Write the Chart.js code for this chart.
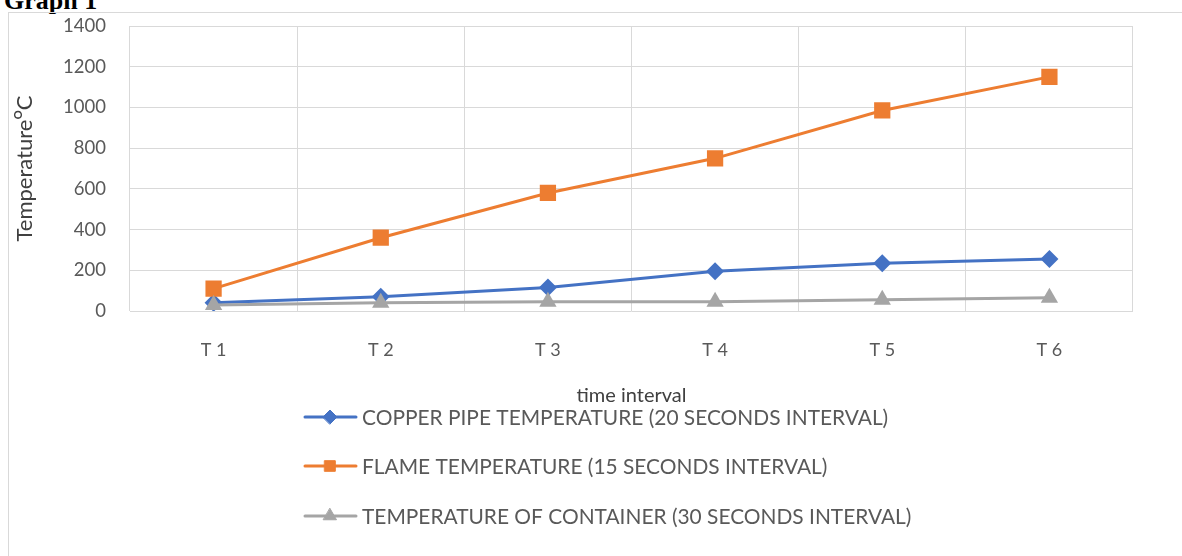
<!DOCTYPE html>
<html>
<head>
<meta charset="utf-8">
<script src="https://cdn.jsdelivr.net/npm/chart.js@4"></script>
<style>
  html, body { margin: 0; padding: 0; background: #fff; }
  #wrap { position: relative; width: 1182px; height: 556px; overflow: hidden; }
  #frame { position: absolute; left: 8px; top: 12px; width: 1200px; height: 600px; border: 1px solid #d9d9d9; box-sizing: border-box; }
  #caption { position: absolute; left: 4px; top: -14px; font: bold 26px "Liberation Serif", serif; color: #000; }
  canvas { position: absolute; left: 0; top: 0; }
</style>
</head>
<body>
<div id="wrap">
  <div id="caption">Graph 1</div>
  <div id="frame"></div>
  <canvas id="lineChart" width="1182" height="556"></canvas>
</div>
<script>
const categorias = ["T 1", "T 2", "T 3", "T 4", "T 5", "T 6"];
const copper = [40, 70, 115, 195, 235, 255];
const flame = [110, 360, 580, 750, 985, 1150];
const container = [30, 40, 45, 45, 55, 65];
const nomes = [
    "COPPER PIPE TEMPERATURE (20 SECONDS INTERVAL)",
    "FLAME TEMPERATURE (15 SECONDS INTERVAL)",
    "TEMPERATURE OF CONTAINER (30 SECONDS INTERVAL)"
];
const cores = ['#4472C4', '#ED7D31', '#A5A5A5'];
const marcadores = ['rectRot', 'rect', 'triangle'];
const fonte = 'Lato, "Open Sans", sans-serif';

// legenda em coluna, desenhada a mao como no Excel
const legendaColuna = {
    id: 'legendaColuna',
    afterDraw(chart) {
        const c = chart.ctx;
        const linhas = [417, 466, 516];
        chart.data.datasets.forEach((ds, i) => {
            const y = linhas[i];
            c.save();
            c.strokeStyle = ds.borderColor;
            c.lineWidth = 3;
            c.lineCap = 'round';
            c.beginPath();
            c.moveTo(305, y);
            c.lineTo(356, y);
            c.stroke();
            c.fillStyle = ds.borderColor;
            c.strokeStyle = ds.borderColor;
            c.lineWidth = 1;
            Chart.helpers.drawPoint(c, { pointStyle: ds.pointStyle, radius: i == 0 ? 7 : 7.5, borderWidth: 1 }, 330, y);
            c.fillStyle = '#595959';
            c.font = '20.9px ' + fonte;
            c.textBaseline = 'middle';
            c.fillText(ds.label, 362, y + 1);
            c.restore();
        });
    }
};

const ctx = document.getElementById('lineChart').getContext('2d');
const series = [copper, flame, container];
new Chart(ctx, {
    type: 'line',
    data: {
        labels: categorias,
        datasets: series.map((valores, i) => ({
            label: nomes[i],
            data: valores,
            borderColor: cores[i],
            backgroundColor: cores[i],
            borderWidth: 3,
            pointStyle: marcadores[i],
            pointRadius: [9, 11.5, 10][i],
            pointBorderWidth: 0,
            order: 2 - i,
            tension: 0
        }))
    },
    options: {
        responsive: false,
        animation: false,
        layout: { padding: { left: 0, right: 49, top: 26, bottom: 145 } },
        plugins: {
            legend: { display: false },
            tooltip: { enabled: false }
        },
        scales: {
            x: {
                offset: true,
                grid: { offset: true, color: '#d9d9d9', lineWidth: 1, drawTicks: false },
                border: { display: false },
                ticks: { color: '#595959', font: { family: fonte, size: 18 }, padding: 28 },
                title: { display: true, text: 'time interval', color: '#404040', font: { family: fonte, size: 20 }, padding: { top: 0, bottom: 3 } },
                afterFit: (s) => { s.height = 100; }
            },
            y: {
                min: 0,
                max: 1400,
                grid: { color: '#d9d9d9', lineWidth: 1, drawTicks: false },
                border: { display: false },
                ticks: {
                    stepSize: 200, color: '#595959', font: { family: fonte, size: 18.5 }, padding: 24,
                    callback: (v) => String(v)
                },
                title: { display: true, text: 'Temperature\u1D3CC', color: '#404040', font: { family: fonte, size: 22 }, padding: { top: 12, bottom: 0 } },
                afterFit: (s) => { s.width = 130; s.paddingTop = 0; s.paddingBottom = 0; }
            }
        }
    },
    plugins: [legendaColuna]
});
</script>
</body>
</html>
